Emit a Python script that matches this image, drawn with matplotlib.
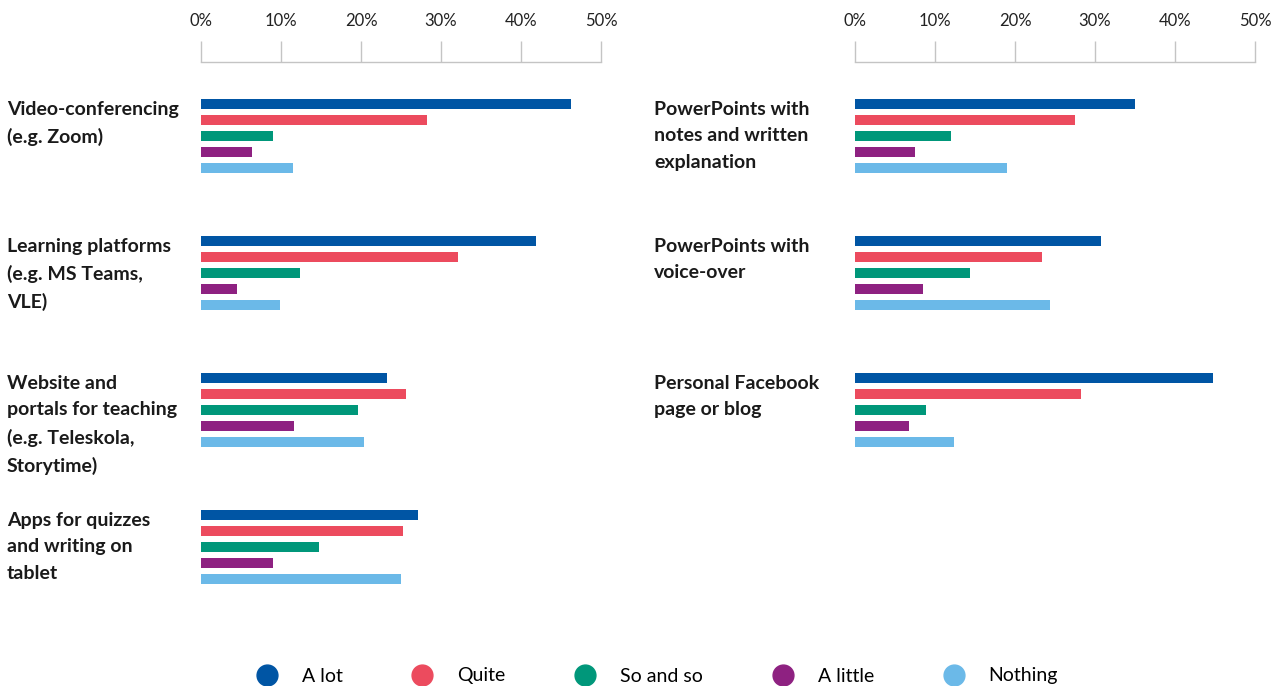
import matplotlib.pyplot as plt
from matplotlib.lines import Line2D

plt.rcParams['font.family'] = ['Lato', 'DejaVu Sans']

# --------------------------------------------------
# DATA (% of respondents)
# --------------------------------------------------

levels = ['A lot', 'Quite', 'So and so', 'A little', 'Nothing']
colors = ['#0055a4', '#ec4b5e', '#00977a', '#8e2181', '#6bb9e8']

left_tools = ['Video-conferencing\n(e.g. Zoom)',
              'Learning platforms\n(e.g. MS Teams,\nVLE)',
              'Website and\nportals for teaching\n(e.g. Teleskola,\nStorytime)',
              'Apps for quizzes\nand writing on\ntablet']
left_values = [
    [46.3, 28.2, 9.0, 6.4, 11.5],
    [41.9, 32.1, 12.4, 4.5, 9.9],
    [23.2, 25.6, 19.6, 11.6, 20.4],
    [27.1, 25.2, 14.7, 9.0, 25.0],
]

right_tools = ['PowerPoints with\nnotes and written\nexplanation',
               'PowerPoints with\nvoice-over',
               'Personal Facebook\npage or blog']
right_values = [
    [35.0, 27.5, 12.0, 7.5, 19.0],
    [30.7, 23.4, 14.4, 8.5, 24.4],
    [44.8, 28.3, 8.9, 6.8, 12.4],
]

ticks = [0, 10, 20, 30, 40, 50]
tick_labels = ['0%', '10%', '20%', '30%', '40%', '50%']

# --------------------------------------------------
# LAYOUT (pixel units, 100 dpi)
# --------------------------------------------------

W, H = 1282, 686
AX_TOP = 62          # axis line
AX_BOT = 600
GROUP_STEP = 137
BAR_STEP = 16
BAR_H = 10.5
FIRST_BAR = 42       # first bar centre below the axis line

fig = plt.figure(figsize=(W / 100, H / 100), dpi=100)


def panel(x0, tools, values, label_x):
    ax = fig.add_axes([x0 / W, 1 - AX_BOT / H, 400 / W, (AX_BOT - AX_TOP) / H])
    ax.set_xlim(0, 50)
    ax.set_ylim(AX_BOT - AX_TOP, 0)

    for g, vals in enumerate(values):
        for j, v in enumerate(vals):
            y = FIRST_BAR + g * GROUP_STEP + j * BAR_STEP
            ax.barh(y, v, height=BAR_H, color=colors[j], linewidth=0)
        # category label, left of the bars
        ax.text(label_x, FIRST_BAR + g * GROUP_STEP - 3, tools[g],
                ha='left', va='top', fontsize=14, fontweight='bold',
                color='#1a1a1a', linespacing=1.67)

    for s in ['bottom', 'left', 'right']:
        ax.spines[s].set_visible(False)
    ax.spines['top'].set_color('#c4c4c4')
    ax.spines['top'].set_linewidth(1.0)
    ax.xaxis.tick_top()
    ax.set_xticks(ticks)
    ax.set_xticklabels(tick_labels)
    ax.tick_params(axis='x', direction='out', length=15, width=1.0,
                   color='#c4c4c4', pad=9, labelsize=12, labelcolor='#222222')
    ax.set_yticks([])
    return ax


panel(201, left_tools, left_values, label_x=(7 - 201) / 8)
panel(855, right_tools, right_values, label_x=(654 - 855) / 8)

# --------------------------------------------------
# LEGEND
# --------------------------------------------------

handles = [Line2D([], [], marker='o', linestyle='none', markersize=15,
                  markerfacecolor=c, markeredgecolor=c) for c in colors]
fig.legend(handles, levels, loc='center', ncol=5, frameon=False,
           bbox_to_anchor=(0.509, 10 / H), fontsize=14,
           handletextpad=0.8, columnspacing=3.1, borderaxespad=0)

fig.savefig('out.png', dpi=100)
